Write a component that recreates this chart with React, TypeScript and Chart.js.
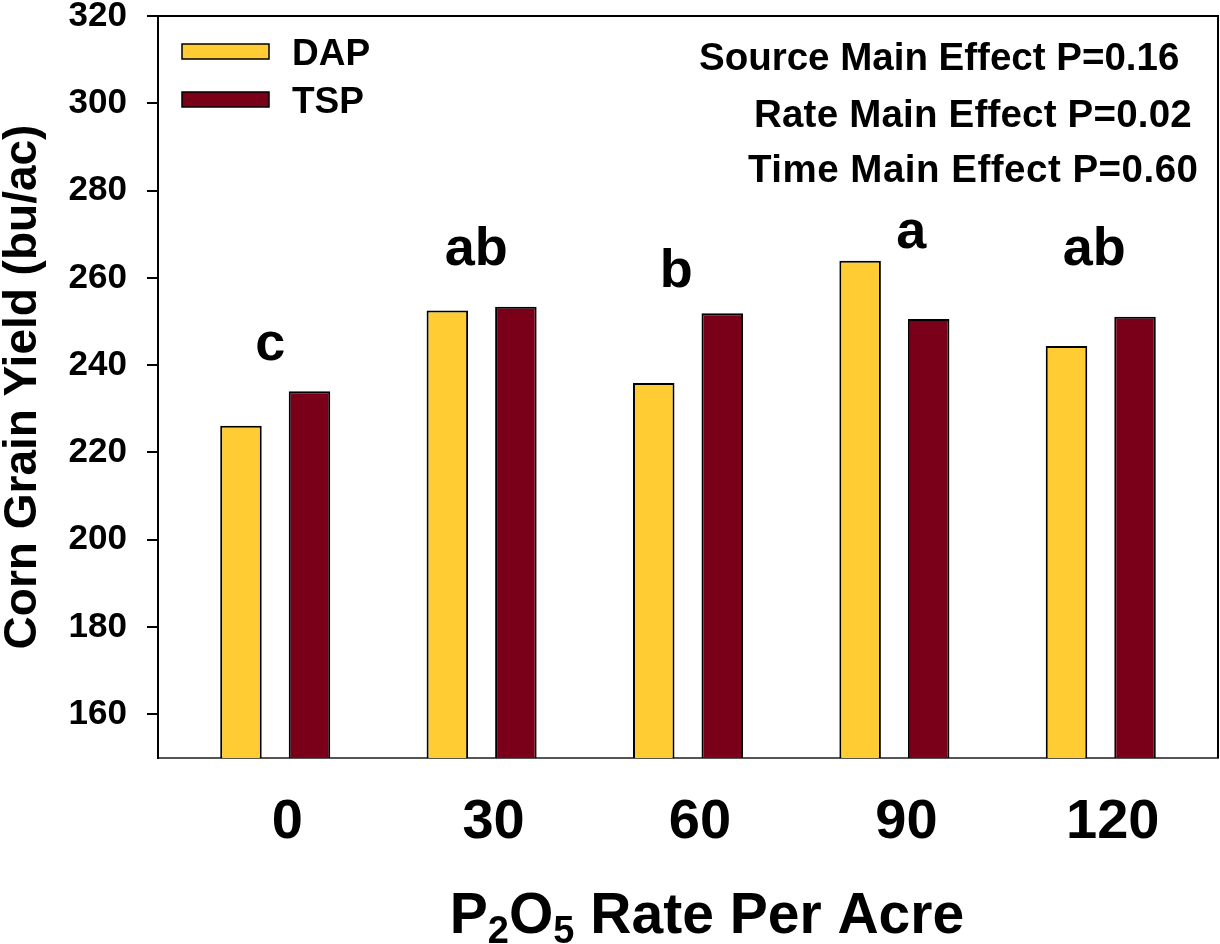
import React, { useEffect, useRef } from 'react';
import { Chart, registerables } from 'chart.js';

Chart.register(...registerables);

const FONT = '"Liberation Sans", Arial, Helvetica, sans-serif';

const rates = ['0', '30', '60', '90', '120'];
const seriesNames = ['DAP', 'TSP'];
const dapYield = [226.1, 252.5, 235.9, 263.9, 244.4];
const tspYield = [234.0, 253.4, 251.9, 250.6, 251.1];
const seriesColors = ['#FFCC33', '#7A0019'];
const groupLetters = ['c', 'ab', 'b', 'a', 'ab'];
const letterX = [-0.024, 0.974, 1.943, 3.082, 3.968];
const letterY = [241.2, 263.0, 258.0, 266.8, 263.0];
const yTickValues = [160, 180, 200, 220, 240, 260, 280, 300, 320];
const statLines = ['Source Main Effect P=0.16', 'Rate Main Effect P=0.02', 'Time Main Effect P=0.60'];
const yTitle = 'Corn Grain Yield (bu/ac)';
const xTitleParts = [
  { t: 'P', sub: false },
  { t: '2', sub: true },
  { t: 'O', sub: false },
  { t: '5', sub: true },
  { t: ' Rate Per Acre', sub: false },
];

const overlayPlugin = {
  id: 'overlay',
  afterDraw(chart: any) {
    const { ctx, chartArea } = chart;
    const xs = chart.scales.x;
    const ys = chart.scales.y;
    ctx.save();

    // frame (top + right)
    ctx.strokeStyle = '#000';
    ctx.lineWidth = 2;
    ctx.beginPath();
    ctx.moveTo(chartArea.left, chartArea.top);
    ctx.lineTo(chartArea.right, chartArea.top);
    ctx.lineTo(chartArea.right, chartArea.bottom);
    ctx.stroke();

    // legend
    ctx.textAlign = 'left';
    ctx.textBaseline = 'alphabetic';
    ctx.font = `bold 37px ${FONT}`;
    chart.data.datasets.forEach((ds: any, i: number) => {
      const by = 44 + i * 48;
      ctx.fillStyle = ds.backgroundColor;
      ctx.fillRect(182, by, 87, 15);
      ctx.lineWidth = 1.5;
      ctx.strokeStyle = '#000';
      ctx.strokeRect(182, by, 87, 15);
      ctx.fillStyle = '#000';
      ctx.fillText(ds.label, 292, by + 21);
    });

    // stats text
    ctx.font = `bold 38.5px ${FONT}`;
    ctx.fillStyle = '#000';
    const statX = [699, 754, 748];
    const statY = [70, 127, 182];
    const statSpacing = ['0px', '0.2px', '0.5px'];
    statLines.forEach((s, i) => {
      (ctx as any).letterSpacing = statSpacing[i];
      ctx.fillText(s, statX[i], statY[i]);
    });
    (ctx as any).letterSpacing = '0px';

    // letters
    ctx.font = `bold 54px ${FONT}`;
    ctx.textAlign = 'center';
    groupLetters.forEach((l, i) => {
      ctx.fillText(l, xs.getPixelForValue(letterX[i]), ys.getPixelForValue(letterY[i]));
    });

    // x title with subscripts
    ctx.textAlign = 'left';
    const mainFont = `bold 57px ${FONT}`;
    const subFont = `bold 38px ${FONT}`;
    let total = 0;
    xTitleParts.forEach((p) => {
      ctx.font = p.sub ? subFont : mainFont;
      total += ctx.measureText(p.t).width;
    });
    let x = 707 - total / 2;
    xTitleParts.forEach((p) => {
      ctx.font = p.sub ? subFont : mainFont;
      ctx.fillText(p.t, x, p.sub ? 943 : 933);
      x += ctx.measureText(p.t).width;
    });

    ctx.restore();
  },
};

export default function App() {
  const ref = useRef<HTMLCanvasElement>(null);
  useEffect(() => {
    const canvas = ref.current!;
    Chart.defaults.font.family = FONT;
    const chart = new Chart(canvas, {
      type: 'bar',
      data: {
        datasets: seriesNames.map((name, s) => ({
          label: name,
          data: (s === 0 ? dapYield : tspYield).map((v, i) => ({ x: i, y: v })),
          backgroundColor: seriesColors[s],
          borderColor: '#000',
          borderWidth: 2,
        })),
      },
      options: {
        responsive: false,
        animation: false,
        devicePixelRatio: 1,
        layout: { padding: { top: 16, right: 2, left: 0, bottom: 0 } },
        plugins: { legend: { display: false }, tooltip: { enabled: false } },
        datasets: { bar: { categoryPercentage: 0.664, barPercentage: 0.606 } },
        scales: {
          x: {
            type: 'linear',
            offset: false,
            min: -0.568,
            max: 4.568,
            afterBuildTicks: (s: any) => {
              s.ticks = rates.map((_, i) => ({ value: i }));
            },
            afterFit: (s: any) => {
              s.height = 186;
              s.paddingLeft = 0;
              s.paddingRight = 0;
            },
            grid: { display: false, drawTicks: false, offset: false },
            border: { display: true, color: '#555', width: 2 },
            ticks: {
              callback: (_v: any, i: number) => rates[i],
              font: { size: 56, weight: 'bold', lineHeight: 1 },
              color: '#000',
              padding: 37,
              labelOffset: 12,
              autoSkip: false,
              maxRotation: 0,
            },
          },
          y: {
            min: 150,
            max: 320,
            afterBuildTicks: (s: any) => {
              s.ticks = yTickValues.map((v) => ({ value: v }));
            },
            afterFit: (s: any) => {
              s.width = 158;
              s.paddingTop = 0;
              s.paddingBottom = 0;
            },
            grid: { drawOnChartArea: false, drawTicks: true, tickLength: 11, color: '#000', lineWidth: 2 },
            border: { display: true, color: '#000', width: 2 },
            ticks: { font: { size: 35, weight: 'bold', lineHeight: 1 }, color: '#000', padding: 20 },
            title: {
              display: true,
              text: yTitle,
              font: { size: 46, weight: 'bold', lineHeight: 1 },
              color: '#000',
              padding: 0,
            },
          },
        },
      } as any,
      plugins: [overlayPlugin],
    });
    return () => chart.destroy();
  }, []);

  return (
    <div style={{ position: 'absolute', left: 0, top: 0, width: 1220, height: 944, background: '#fff' }}>
      <canvas ref={ref} width={1220} height={944} style={{ display: 'block', width: 1220, height: 944 }} />
    </div>
  );
}
